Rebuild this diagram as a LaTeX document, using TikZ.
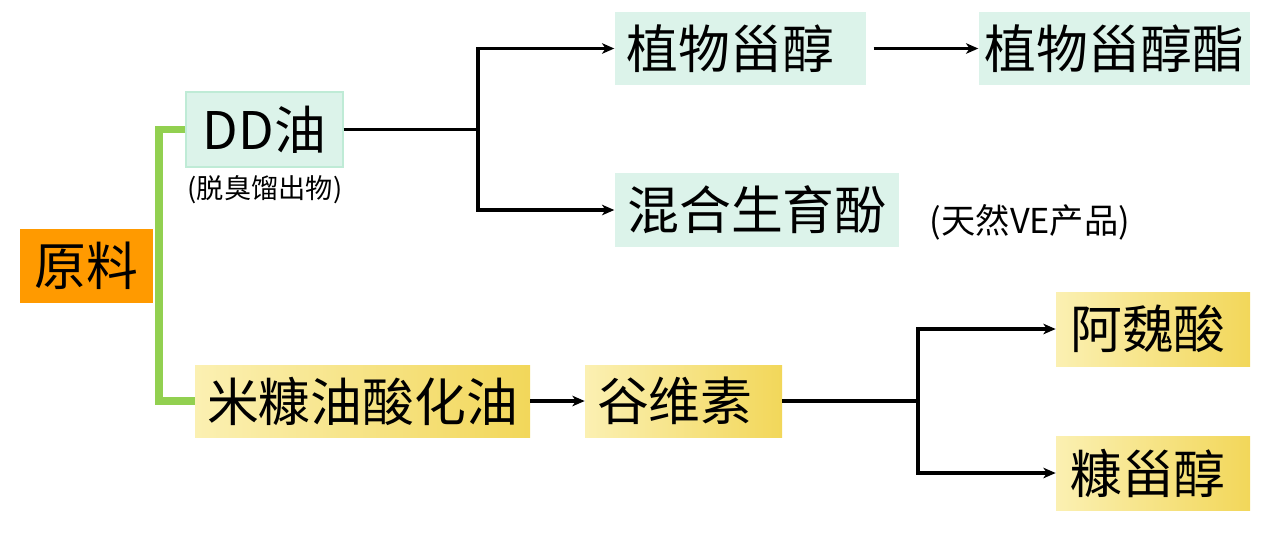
\documentclass[tikz,border=0pt]{standalone}
\usepackage{fontspec}
\setmainfont{Noto Sans CJK SC}
\usepackage{tikz}
\usetikzlibrary{arrows.meta}
\definecolor{orange}{HTML}{FF9A00}
\definecolor{mint}{HTML}{DCF3EA}
\definecolor{mintline}{HTML}{BFEBD6}
\definecolor{paleyellow}{HTML}{FBF0B2}
\definecolor{gold}{HTML}{F2D75A}
\definecolor{leaf}{HTML}{92D050}

\begin{document}
\begin{tikzpicture}[x=0.02cm, y=-0.02cm,
        every node/.style={inner sep=0pt, font=\fontsize{29.5}{32}\selectfont},
        mintbox/.style={fill=mint, draw=mintline, line width=0.8pt},
        goldbox/.style={left color=paleyellow, right color=gold},
        flow/.style={line width=2pt, -{Stealth[length=7pt, width=6pt, inset=2pt]}},
        bar/.style={line width=2pt},
        note/.style={font=\fontsize{15.5}{17}\selectfont}]
        \useasboundingbox (0, 0) rectangle (1280, 535);
        \draw (86.5, 266) node(0)[fill=orange, minimum width=133*0.02cm, minimum height=74*0.02cm]{原料};
        \draw (264.5, 129.5) node(1)[mintbox, minimum width=157*0.02cm, minimum height=75*0.02cm]{DD油};
        \draw (265, 190) node(9)[note]{(脱臭馏出物)};
        \draw (740.5, 48.5) node(2)[mintbox, draw=none, minimum width=251*0.02cm, minimum height=73*0.02cm]{植物甾醇\kern0.4cm};
        \draw (1114.5, 48.5) node(3)[mintbox, draw=none, minimum width=271*0.02cm, minimum height=73*0.02cm]{植物甾醇酯};
        \draw (757, 210) node(4)[mintbox, draw=none, minimum width=284*0.02cm, minimum height=74*0.02cm]{混合生育酚};
        \draw (1030, 222) node(10)[note, font=\fontsize{19.5}{21}\selectfont]{(天然VE产品)};
        \draw (362.5, 401) node(5)[goldbox, minimum width=335*0.02cm, minimum height=72*0.02cm]{米糠油酸化油};
        \draw (683.5, 401) node(6)[goldbox, minimum width=197*0.02cm, minimum height=72*0.02cm]{谷维素\kern0.35cm};
        \draw (1153, 329) node(7)[goldbox, minimum width=194*0.02cm, minimum height=74*0.02cm]{阿魏酸\kern0.2cm};
        \draw (1153, 473) node(8)[goldbox, minimum width=194*0.02cm, minimum height=74*0.02cm]{糠甾醇\kern0.2cm};
        \coordinate (j0) at (159, 266);
        \coordinate (j1) at (478, 129.5);
        \coordinate (j2) at (918, 401);
        \draw[leaf, line width=4.5pt, line join=miter] (1.west) -| (j0) |- (5.west);
        \draw[bar] (1.east) -- (j1);
        \draw[flow] (j1) |- (2.west);
        \draw[flow] (j1) |- (4.west);
        \draw[flow] ([xshift=4pt]2.east) -- (3.west);
        \draw[flow] (5.east) -- (6.west);
        \draw[bar] (6.east) -- (j2);
        \draw[flow] (j2) |- (7.west);
        \draw[flow] (j2) |- (8.west);
    \end{tikzpicture}
\end{document}
